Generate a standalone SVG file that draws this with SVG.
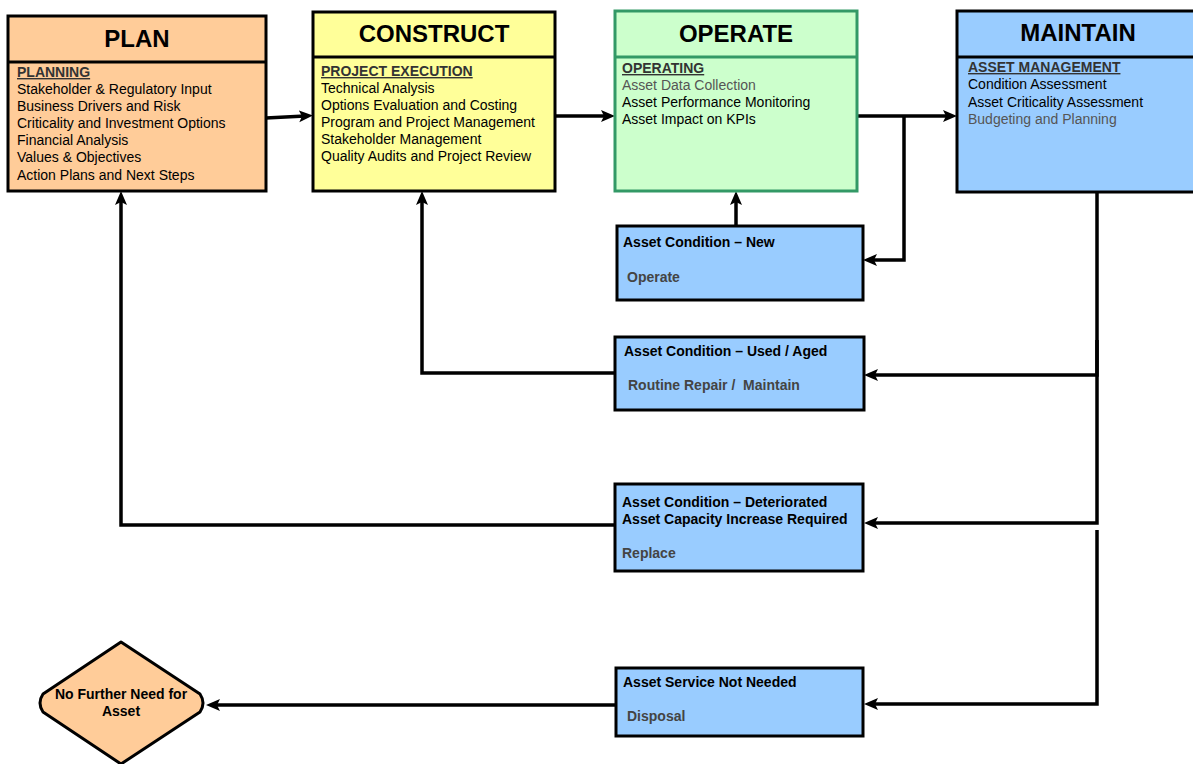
<svg xmlns="http://www.w3.org/2000/svg" width="1193" height="764" viewBox="0 0 1193 764">
<style>
.box{stroke:#000;stroke-width:3}
.hd{font-family:"Liberation Sans",Arial,sans-serif;font-size:24px;font-weight:bold;fill:#000;text-anchor:middle}
.ul{font-family:"Liberation Sans",Arial,sans-serif;font-size:14px;font-weight:bold;fill:#333;text-decoration:underline}
.tx{font-family:"Liberation Sans",Arial,sans-serif;font-size:14px;fill:#000}
.gy{fill:#555}
.bt{font-family:"Liberation Sans",Arial,sans-serif;font-size:14px;font-weight:bold;fill:#000}
.sb{font-family:"Liberation Sans",Arial,sans-serif;font-size:14px;font-weight:bold;fill:#444;white-space:pre}
.blue{fill:#99CCFF}
.cn{fill:none;stroke:#000;stroke-width:3.5}
</style>
<defs>
<marker id="ah" markerUnits="userSpaceOnUse" markerWidth="16" markerHeight="14" viewBox="0 0 16 14" refX="6" refY="7" orient="auto">
<path d="M0,1 L14,7 L0,13 L3,7 z" fill="#000"/>
</marker>
</defs>
<rect width="1193" height="764" fill="#fff"/>

<g id="connectors">
<path class="cn" d="M266,118 L305,116" marker-end="url(#ah)"/>
<path class="cn" d="M555,116 L607,116" marker-end="url(#ah)"/>
<path class="cn" d="M857,116 L949,116" marker-end="url(#ah)"/>
<path class="cn" d="M904,116 L904,260 L871,260" marker-end="url(#ah)"/>
<path class="cn" d="M736,226 L736,199" marker-end="url(#ah)"/>
<path class="cn" d="M1097,192 L1097,375 L872,375" marker-end="url(#ah)"/>
<path class="cn" d="M1097,340 L1097,523 L872,523" marker-end="url(#ah)"/>
<path class="cn" d="M1097,530 L1097,704 L872,704" marker-end="url(#ah)"/>
<path class="cn" d="M615,373 L422,373 L422,199" marker-end="url(#ah)"/>
<path class="cn" d="M615,525 L121,525 L121,199" marker-end="url(#ah)"/>
<path class="cn" d="M615,705 L214,705" marker-end="url(#ah)"/>
</g>

<g id="plan">
<rect class="box" x="8" y="16" width="258" height="175" fill="#FFCC99"/>
<line x1="8" y1="62" x2="266" y2="62" stroke="#000" stroke-width="3"/>
<text class="hd" x="137" y="47">PLAN</text>
<text class="ul" x="17" y="77">PLANNING</text>
<text class="tx" x="17" y="94">Stakeholder &amp; Regulatory Input</text>
<text class="tx" x="17" y="111">Business Drivers and Risk</text>
<text class="tx" x="17" y="128">Criticality and Investment Options</text>
<text class="tx" x="17" y="145">Financial Analysis</text>
<text class="tx" x="17" y="162">Values &amp; Objectives</text>
<text class="tx" x="17" y="180">Action Plans and Next Steps</text>
</g>

<g id="construct">
<rect class="box" x="313" y="12" width="242" height="179" fill="#FFFF99"/>
<line x1="313" y1="57" x2="555" y2="57" stroke="#000" stroke-width="3"/>
<text class="hd" x="434" y="42">CONSTRUCT</text>
<text class="ul" x="321" y="76">PROJECT EXECUTION</text>
<text class="tx" x="321" y="93">Technical Analysis</text>
<text class="tx" x="321" y="110">Options Evaluation and Costing</text>
<text class="tx" x="321" y="127">Program and Project Management</text>
<text class="tx" x="321" y="144">Stakeholder Management</text>
<text class="tx" x="321" y="161">Quality Audits and Project Review</text>
</g>

<g id="operate">
<rect x="615" y="11" width="242" height="180" fill="#CCFFCC" stroke="#339966" stroke-width="3"/>
<line x1="615" y1="57" x2="857" y2="57" stroke="#339966" stroke-width="3"/>
<text class="hd" x="736" y="42">OPERATE</text>
<text class="ul" x="622" y="73">OPERATING</text>
<text class="tx gy" x="622" y="90">Asset Data Collection</text>
<text class="tx" x="622" y="107">Asset Performance Monitoring</text>
<text class="tx" x="622" y="124">Asset Impact on KPIs</text>
</g>

<g id="maintain">
<rect class="box blue" x="957" y="11" width="250" height="181"/>
<line x1="957" y1="57" x2="1193" y2="57" stroke="#000" stroke-width="3"/>
<text class="hd" x="1078" y="41">MAINTAIN</text>
<text class="ul" x="968" y="72">ASSET MANAGEMENT</text>
<text class="tx" x="968" y="89">Condition Assessment</text>
<text class="tx" x="968" y="107">Asset Criticality Assessment</text>
<text class="tx gy" x="968" y="124">Budgeting and Planning</text>
</g>

<g id="cond-new">
<rect class="box blue" x="617" y="226" width="246" height="74"/>
<text class="bt" x="623" y="247">Asset Condition – New</text>
<text class="sb" x="627" y="282">Operate</text>
</g>

<g id="cond-used">
<rect class="box blue" x="615" y="337" width="249" height="73"/>
<text class="bt" x="624" y="356">Asset Condition – Used / Aged</text>
<text class="sb" x="628" y="390" xml:space="preserve">Routine Repair /  Maintain</text>
</g>

<g id="cond-det">
<rect class="box blue" x="615" y="484" width="248" height="87"/>
<text class="bt" x="622" y="507">Asset Condition – Deteriorated</text>
<text class="bt" x="622" y="524">Asset Capacity Increase Required</text>
<text class="sb" x="622" y="558">Replace</text>
</g>

<g id="not-needed">
<rect class="box blue" x="616" y="668" width="247" height="68"/>
<text class="bt" x="623" y="687">Asset Service Not Needed</text>
<text class="sb" x="627" y="721">Disposal</text>
</g>

<g id="no-further">
<path d="M121,642 L200,694 Q206,703 200,712 L121,764 L43,712 Q37,703 43,694 Z" fill="#FFCC99" stroke="#000" stroke-width="3" stroke-linejoin="round"/>
<text class="bt" x="121" y="699" text-anchor="middle">No Further Need for</text>
<text class="bt" x="121" y="716" text-anchor="middle">Asset</text>
</g>
</svg>
